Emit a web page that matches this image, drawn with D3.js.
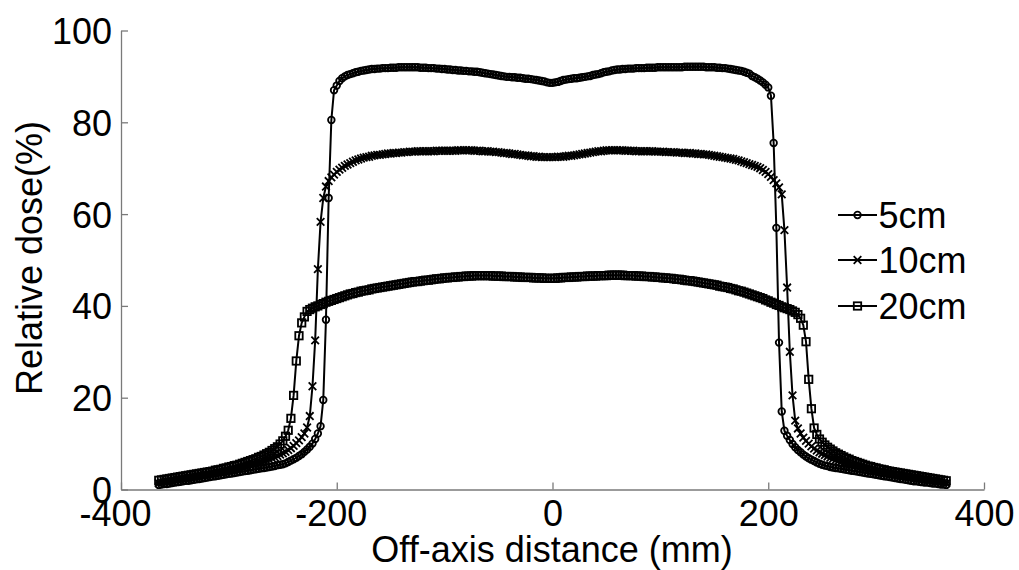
<!DOCTYPE html>
<html>
<head>
<meta charset="utf-8">
<script src="https://cdn.jsdelivr.net/npm/d3@7"></script>
<style>
  html, body { margin: 0; padding: 0; background: #fff; }
  svg { display: block; }
  text { font-family: "Liberation Sans", Arial, Helvetica, sans-serif; fill: #000; }
</style>
</head>
<body>
<svg id="chart" width="1019" height="570"></svg>
<script>
// Off-axis sampling positions (mm), 2.5 mm apart
const offAxis = d3.range(-365, 365.01, 2.5);

// Relative dose (%) at 5 cm depth
const dose5 = [
  1.0,1.1,1.2,1.2,1.3,1.4,1.5,1.6,1.7,1.8,
  1.9,1.9,2.0,2.1,2.2,2.3,2.4,2.5,2.6,2.7,
  2.8,2.9,3.0,3.1,3.2,3.3,3.4,3.5,3.6,3.7,
  3.8,3.9,4.0,4.1,4.2,4.3,4.4,4.5,4.6,4.7,
  4.8,4.9,5.0,5.1,5.3,5.4,5.5,5.7,6.0,6.3,
  6.6,6.9,7.3,7.7,8.2,8.7,9.3,10.0,11.0,12.2,
  13.8,19.5,37.0,63.5,80.5,87.0,88.0,89.0,89.6,90.0,
  90.3,90.5,90.7,90.9,91.0,91.2,91.3,91.4,91.5,91.6,
  91.6,91.7,91.7,91.8,91.8,91.8,91.9,91.9,91.9,92.0,
  92.0,92.0,92.0,92.0,92.0,92.0,92.0,91.9,91.9,91.9,
  91.8,91.8,91.8,91.7,91.7,91.6,91.6,91.5,91.5,91.4,
  91.4,91.3,91.3,91.2,91.2,91.1,91.1,91.0,91.0,90.9,
  90.8,90.7,90.6,90.5,90.4,90.3,90.2,90.1,90.0,89.9,
  89.9,89.8,89.8,89.7,89.7,89.6,89.5,89.5,89.4,89.3,
  89.2,89.1,89.0,88.9,88.7,88.6,88.6,88.7,88.8,89.0,
  89.2,89.3,89.4,89.5,89.6,89.6,89.7,89.8,89.9,90.0,
  90.1,90.3,90.4,90.5,90.7,90.9,91.0,91.1,91.3,91.4,
  91.5,91.5,91.6,91.6,91.7,91.7,91.7,91.8,91.8,91.8,
  91.8,91.9,91.9,91.9,91.9,92.0,92.0,92.0,92.0,92.0,
  92.0,92.0,92.0,92.0,92.0,92.1,92.1,92.1,92.1,92.1,
  92.1,92.1,92.1,92.0,92.0,92.0,92.0,91.9,91.9,91.8,
  91.8,91.7,91.6,91.5,91.4,91.3,91.2,91.0,90.8,90.6,
  90.1,89.8,89.5,89.1,88.7,88.2,87.6,85.8,75.5,57.0,
  32.0,17.0,12.8,11.7,10.8,9.9,9.2,8.6,8.1,7.6,
  7.2,6.8,6.5,6.2,5.9,5.6,5.4,5.2,5.1,4.9,
  4.8,4.7,4.6,4.5,4.4,4.3,4.2,4.1,4.0,3.9,
  3.8,3.7,3.6,3.5,3.4,3.3,3.2,3.1,3.0,2.9,
  2.8,2.7,2.6,2.5,2.4,2.3,2.2,2.1,2.0,1.9,
  1.8,1.8,1.7,1.6,1.5,1.5,1.4,1.3,1.3,1.2,
  1.1,1.1,1.0
];

// Relative dose (%) at 10 cm depth
const dose10 = [
  1.4,1.5,1.6,1.7,1.7,1.8,2.0,2.1,2.2,2.3,
  2.4,2.5,2.6,2.7,2.8,2.9,3.0,3.1,3.2,3.3,
  3.4,3.5,3.6,3.7,3.8,4.0,4.1,4.2,4.3,4.5,
  4.6,4.7,4.9,5.0,5.2,5.4,5.5,5.7,5.9,6.1,
  6.3,6.5,6.8,7.0,7.3,7.6,7.9,8.2,8.6,9.0,
  9.5,10.1,10.7,11.4,12.2,13.5,16.0,22.5,32.5,48.0,
  58.3,63.5,66.0,67.2,68.0,68.6,69.2,69.7,70.1,70.5,
  70.8,71.1,71.4,71.7,71.9,72.1,72.3,72.4,72.5,72.7,
  72.8,72.9,72.9,73.0,73.1,73.2,73.2,73.3,73.3,73.4,
  73.4,73.5,73.5,73.6,73.6,73.6,73.7,73.7,73.7,73.7,
  73.7,73.7,73.7,73.8,73.8,73.8,73.8,73.8,73.8,73.8,
  73.8,73.9,73.9,73.9,73.9,73.9,73.9,73.8,73.8,73.8,
  73.7,73.7,73.7,73.6,73.6,73.5,73.5,73.4,73.3,73.3,
  73.2,73.1,73.1,73.0,72.9,72.8,72.8,72.7,72.6,72.6,
  72.5,72.5,72.4,72.4,72.4,72.4,72.4,72.4,72.5,72.5,
  72.5,72.6,72.7,72.7,72.8,72.9,73.0,73.1,73.2,73.3,
  73.4,73.5,73.6,73.7,73.7,73.8,73.9,73.9,73.9,73.9,
  73.9,73.9,73.9,73.8,73.8,73.8,73.8,73.7,73.7,73.7,
  73.7,73.7,73.7,73.7,73.6,73.6,73.6,73.6,73.5,73.5,
  73.5,73.5,73.4,73.4,73.4,73.3,73.3,73.3,73.2,73.2,
  73.1,73.1,73.0,73.0,72.9,72.8,72.7,72.6,72.5,72.4,
  72.3,72.2,72.1,72.0,71.8,71.7,71.5,71.3,71.1,70.9,
  70.7,70.5,70.3,70.0,69.6,69.2,68.7,68.1,67.4,66.7,
  65.8,64.3,56.5,44.0,30.0,20.5,15.0,13.3,12.2,11.3,
  10.6,10.0,9.4,8.9,8.5,8.1,7.8,7.5,7.2,6.9,
  6.7,6.4,6.2,6.0,5.8,5.6,5.4,5.2,5.1,4.9,
  4.8,4.6,4.5,4.4,4.2,4.1,4.0,3.9,3.8,3.7,
  3.6,3.5,3.4,3.3,3.2,3.1,3.0,2.9,2.8,2.7,
  2.6,2.5,2.4,2.3,2.2,2.1,2.0,1.9,1.8,1.7,
  1.6,1.5,1.4
];

// Relative dose (%) at 20 cm depth
const dose20 = [
  2.0,2.1,2.2,2.3,2.4,2.5,2.6,2.7,2.8,2.9,
  3.0,3.1,3.2,3.3,3.4,3.5,3.6,3.7,3.8,3.9,
  4.0,4.2,4.3,4.4,4.6,4.7,4.9,5.0,5.2,5.3,
  5.5,5.7,5.9,6.1,6.3,6.5,6.7,7.0,7.2,7.5,
  7.8,8.1,8.5,8.9,9.3,9.9,10.6,11.6,12.9,15.5,
  20.5,28.0,33.5,36.3,37.6,38.8,39.2,39.5,39.8,40.0,
  40.3,40.5,40.8,41.0,41.2,41.4,41.6,41.8,42.0,42.2,
  42.4,42.6,42.7,42.9,43.0,43.2,43.3,43.4,43.5,43.7,
  43.8,43.9,44.0,44.1,44.2,44.3,44.4,44.5,44.6,44.7,
  44.8,44.9,45.0,45.1,45.2,45.3,45.3,45.4,45.5,45.6,
  45.6,45.7,45.8,45.9,45.9,46.0,46.1,46.1,46.2,46.2,
  46.3,46.3,46.4,46.4,46.5,46.5,46.5,46.6,46.6,46.6,
  46.6,46.6,46.6,46.6,46.5,46.5,46.5,46.5,46.4,46.4,
  46.4,46.4,46.3,46.3,46.3,46.2,46.2,46.2,46.2,46.1,
  46.1,46.1,46.1,46.0,46.0,46.0,46.0,46.0,46.1,46.1,
  46.2,46.2,46.2,46.3,46.3,46.3,46.4,46.4,46.4,46.5,
  46.5,46.5,46.5,46.6,46.6,46.6,46.6,46.7,46.7,46.7,
  46.7,46.7,46.7,46.6,46.6,46.6,46.6,46.5,46.5,46.5,
  46.4,46.4,46.4,46.3,46.3,46.2,46.2,46.1,46.1,46.0,
  46.0,45.9,45.8,45.8,45.7,45.6,45.5,45.5,45.4,45.3,
  45.2,45.1,45.0,44.9,44.8,44.7,44.6,44.5,44.3,44.2,
  44.1,44.0,43.8,43.7,43.5,43.3,43.2,43.0,42.8,42.6,
  42.4,42.2,42.0,41.8,41.6,41.3,41.1,40.8,40.6,40.3,
  40.1,39.8,39.6,39.4,39.2,38.9,38.6,38.1,37.3,35.8,
  32.2,24.0,17.6,13.4,12.0,11.0,10.3,9.7,9.2,8.8,
  8.4,8.0,7.7,7.4,7.1,6.8,6.6,6.3,6.1,5.9,
  5.7,5.5,5.3,5.1,5.0,4.8,4.7,4.5,4.4,4.3,
  4.1,4.0,3.9,3.8,3.7,3.6,3.5,3.4,3.3,3.2,
  3.1,3.0,2.9,2.8,2.7,2.6,2.5,2.4,2.3,2.2,
  2.1,2.0,1.9
];

const seriesLabels = ["5cm", "10cm", "20cm"];
const seriesMarkers = ["circle", "cross", "square"];
const xTickValues = [-400, -200, 0, 200, 400];
const yTickValues = [0, 20, 40, 60, 80, 100];
const xTitle = "Off-axis distance (mm)";
const yTitle = "Relative dose(%)";

const series = [dose5, dose10, dose20].map((vals, i) => ({
  label: seriesLabels[i],
  marker: seriesMarkers[i],
  points: vals.map((v, j) => [offAxis[j], v])
}));

const svg = d3.select("#chart");
svg.append("rect").attr("width", 1019).attr("height", 570).attr("fill", "#fff");

const x = d3.scaleLinear().domain([-400, 400]).range([121, 984]);
const y = d3.scaleLinear().domain([0, 100]).range([489.5, 30.5]);

const FONT = 36;
const axisColor = "#7a7a7a";
const MARK_W = 1.8;

// Marker shapes, drawn hollow
function drawMarker(g, type, cx, cy) {
  if (type === "circle") {
    g.append("circle").attr("cx", cx).attr("cy", cy).attr("r", 3.3)
      .attr("fill", "none").attr("stroke", "#000").attr("stroke-width", MARK_W);
  } else if (type === "square") {
    g.append("rect").attr("x", cx - 3.7).attr("y", cy - 3.7)
      .attr("width", 7.4).attr("height", 7.4)
      .attr("fill", "none").attr("stroke", "#000").attr("stroke-width", MARK_W);
  } else {
    const s = 3.8;
    g.append("path")
      .attr("d", `M${cx - s},${cy - s}L${cx + s},${cy + s}M${cx - s},${cy + s}L${cx + s},${cy - s}`)
      .attr("fill", "none").attr("stroke", "#000").attr("stroke-width", MARK_W);
  }
}

// Axes: left and bottom only, ticks pointing inward
const yAxis = d3.axisLeft(y).tickValues(yTickValues).tickSizeInner(-7).tickSizeOuter(0).tickPadding(16);
const xAxis = d3.axisBottom(x).tickValues(xTickValues).tickSizeInner(-7).tickSizeOuter(0).tickPadding(16);

const gy = svg.append("g").attr("transform", `translate(${x.range()[0]},0)`).call(yAxis);
const gx = svg.append("g").attr("transform", `translate(0,${y.range()[0]})`).call(xAxis);

[gx, gy].forEach(g => {
  g.select(".domain").attr("stroke", axisColor).attr("stroke-width", 1.3);
  g.selectAll(".tick line").attr("stroke", axisColor).attr("stroke-width", 1.3);
  g.selectAll(".tick text").attr("font-size", FONT).attr("fill", "#000")
    .style("font-family", '"Liberation Sans", Arial, sans-serif');
});
gy.selectAll(".tick text").attr("x", -9).attr("dy", "0.36em");
// minus sign hangs to the left of the centred digits
gx.selectAll(".tick text")
  .attr("y", 0).attr("dy", 36.5)
  .attr("dx", d => d < 0 ? -6 : 0)
  .text(d => d < 0 ? "-" + Math.abs(d) : String(d));

// Axis titles
svg.append("text").attr("x", 552).attr("y", 562).attr("text-anchor", "middle")
  .attr("font-size", FONT).text(xTitle);
svg.append("text").attr("transform", "translate(42,258) rotate(-90)")
  .attr("text-anchor", "middle").attr("font-size", FONT).text(yTitle);

// Profiles: line then markers at every sample
const line = d3.line().x(d => x(d[0])).y(d => y(d[1]));
const plot = svg.append("g");
series.forEach(s => {
  const g = plot.append("g");
  g.append("path").datum(s.points).attr("d", line)
    .attr("fill", "none").attr("stroke", "#000").attr("stroke-width", 2)
    .attr("stroke-linejoin", "round");
  s.points.forEach(p => drawMarker(g, s.marker, x(p[0]), y(p[1])));
});

// Legend
const legend = svg.append("g");
const legendRows = [215, 260, 306];
series.forEach((s, i) => {
  const ly = legendRows[i];
  const g = legend.append("g");
  g.append("line").attr("x1", 838).attr("x2", 877).attr("y1", ly).attr("y2", ly)
    .attr("stroke", "#000").attr("stroke-width", 2);
  drawMarker(g, s.marker, 857.5, ly);
  g.append("text").attr("x", 878.5).attr("y", ly + 13).attr("font-size", FONT).text(s.label);
});
</script>
</body>
</html>
